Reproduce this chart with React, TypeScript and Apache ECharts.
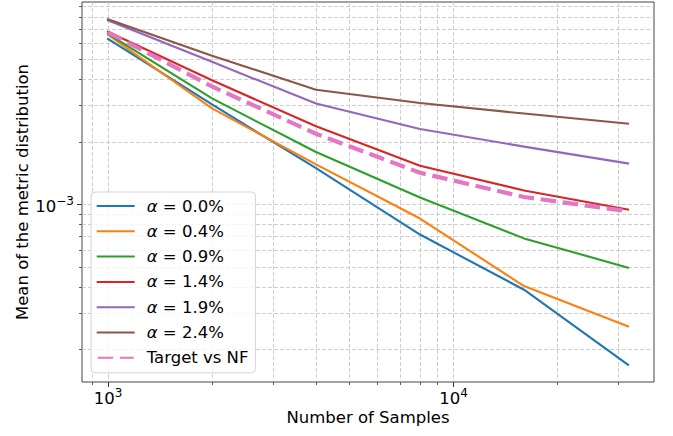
import React, { useEffect, useRef } from 'react';
import * as echarts from 'echarts';

// ---- data ----
const samples = [1000, 2000, 4000, 8000, 16000, 32000];
const alpha00 = [6.27e-3, 3.03e-3, 1.496e-3, 7.17e-4, 3.89e-4, 1.694e-4];
const alpha04 = [6.56e-3, 2.9e-3, 1.559e-3, 8.56e-4, 4.05e-4, 2.59e-4];
const alpha09 = [6.63e-3, 3.24e-3, 1.79e-3, 1.081e-3, 6.87e-4, 4.97e-4];
const alpha14 = [6.78e-3, 3.96e-3, 2.38e-3, 1.537e-3, 1.168e-3, 9.46e-4];
const alpha19 = [7.7e-3, 4.86e-3, 3.06e-3, 2.31e-3, 1.9e-3, 1.576e-3];
const alpha24 = [7.79e-3, 5.2e-3, 3.57e-3, 3.08e-3, 2.74e-3, 2.45e-3];
const targetVsNF = [6.74e-3, 3.7e-3, 2.19e-3, 1.422e-3, 1.087e-3, 9.28e-4];

const seriesNames = ['α = 0.0%', 'α = 0.4%', 'α = 0.9%', 'α = 1.4%', 'α = 1.9%', 'α = 2.4%', 'Target vs NF'];
const seriesValues = [alpha00, alpha04, alpha09, alpha14, alpha19, alpha24, targetVsNF];
const seriesColors = ['#1f77b4', '#ff7f0e', '#2ca02c', '#d62728', '#9467bd', '#8c564b', '#e377c2'];

const xMajorTicks = [1000, 10000];
const xMinorTicks = [900, 2000, 3000, 4000, 5000, 6000, 7000, 8000, 9000, 20000, 30000];
const yMajorTicks = [1e-3];
const yMinorTicks = [2e-4, 3e-4, 4e-4, 5e-4, 6e-4, 7e-4, 8e-4, 9e-4, 2e-3, 3e-3, 4e-3, 5e-3, 6e-3, 7e-3, 8e-3, 9e-3];

const xTitle = 'Number of Samples';
const yTitle = 'Mean of the metric distribution';

const FONT = 'DejaVu Sans';
const L = Math.log10;

function paddedRange(vals: number[]): [number, number] {
  const lo = Math.min(...vals);
  const hi = Math.max(...vals);
  const m = (hi - lo) * 0.05;
  return [lo - m, hi + m];
}

export default function App() {
  const ref = useRef<HTMLDivElement>(null);
  useEffect(() => {
    if (!ref.current) return;
    const chart = echarts.init(ref.current, undefined, { renderer: 'svg' });
    const [xMin, xMax] = paddedRange(samples.map(L));
    const [yMin, yMax] = paddedRange(seriesValues.flat().map(L));

    const gridLine = { show: true, lineStyle: { color: '#c8c8c8', type: [4, 2], width: 0.9 } };
    const tickColor = '#333';
    const supRich = {
      b: { fontFamily: FONT, fontSize: 16.5, lineHeight: 20, color: '#000', verticalAlign: 'bottom' },
      s: { fontFamily: FONT, fontSize: 12, lineHeight: 9, color: '#000', verticalAlign: 'top' },
    };

    const series: any[] = seriesNames.map((name, i) => {
      const dashed = i === 6;
      return {
        name,
        type: 'line',
        xAxisIndex: 0,
        yAxisIndex: 0,
        symbol: 'none',
        showSymbol: false,
        clip: true,
        data: samples.map((s, j) => [L(s), L(seriesValues[i][j])]),
        itemStyle: { color: seriesColors[i] },
        lineStyle: {
          color: seriesColors[i],
          width: dashed ? 4.2 : 2.1,
          type: dashed ? [15.5, 6.7] : 'solid',
          join: 'round',
          cap: dashed ? 'butt' : 'square',
        },
        z: 2 + i,
      };
    });

    chart.setOption({
      animation: false,
      backgroundColor: '#fff',
      grid: {
        left: 82,
        right: 19,
        top: 2,
        bottom: 54,
        containLabel: false,
        outerBoundsMode: 'none',
        show: true,
        borderColor: '#444',
        borderWidth: 1,
        backgroundColor: 'transparent',
      },
      xAxis: [
        {
          type: 'value',
          position: 'bottom',
          min: xMin,
          max: xMax,
          name: xTitle,
          nameLocation: 'middle',
          nameGap: 27,
          nameMoveOverlap: false,
          nameTextStyle: { fontFamily: FONT, fontSize: 16.5, color: '#000' },
          axisLine: { show: false },
          axisTick: { show: true, length: 5, customValues: xMajorTicks.map(L), lineStyle: { color: tickColor, width: 1 } },
          axisLabel: {
            show: true,
            margin: 5,
            customValues: xMajorTicks.map(L),
            formatter: (v: number) => `{b|10}{s|${Math.round(v)}}`,
            rich: supRich,
          },
          splitLine: gridLine,
        },
        {
          type: 'value',
          position: 'bottom',
          min: xMin,
          max: xMax,
          axisLine: { show: false },
          axisTick: { show: true, length: 3, customValues: xMinorTicks.map(L), lineStyle: { color: tickColor, width: 0.8 } },
          axisLabel: { show: false },
          splitLine: gridLine,
        },
      ],
      yAxis: [
        {
          type: 'value',
          position: 'left',
          min: yMin,
          max: yMax,
          name: yTitle,
          nameLocation: 'middle',
          nameGap: 51,
          nameMoveOverlap: false,
          nameTextStyle: { fontFamily: FONT, fontSize: 16.5, color: '#000' },
          axisLine: { show: false },
          axisTick: { show: true, length: 5, customValues: yMajorTicks.map(L), lineStyle: { color: tickColor, width: 1 } },
          axisLabel: {
            show: true,
            margin: 8,
            customValues: yMajorTicks.map(L),
            formatter: (v: number) => `{b|10}{s|−${Math.abs(Math.round(v))}}`,
            rich: supRich,
          },
          splitLine: gridLine,
        },
        {
          type: 'value',
          position: 'left',
          min: yMin,
          max: yMax,
          axisLine: { show: false },
          axisTick: { show: true, length: 3, customValues: yMinorTicks.map(L), lineStyle: { color: tickColor, width: 0.8 } },
          axisLabel: { show: false },
          splitLine: gridLine,
        },
      ],
      legend: {
        show: true,
        orient: 'vertical',
        left: 91,
        top: 192,
        itemWidth: 36,
        itemHeight: 20,
        itemGap: 5.3,
        padding: [4, 7, 5, 5.7],
        backgroundColor: 'rgba(255,255,255,0.8)',
        borderColor: '#d5d5d5',
        borderWidth: 1,
        borderRadius: 4,
        selectedMode: false,
        data: seriesNames,
        itemStyle: { opacity: 0, borderWidth: 0 },
        formatter: (name: string) => (name.startsWith('α') ? `{a|α}${name.slice(1)}` : name),
        textStyle: {
          fontFamily: FONT,
          fontSize: 16.5,
          lineHeight: 20,
          color: '#000',
          padding: [0, 0, 0, 8],
          rich: {
            a: { fontFamily: FONT, fontSize: 16.5, lineHeight: 20, fontStyle: 'italic', color: '#000' },
          },
        },
      },
      series,
    });
    return () => chart.dispose();
  }, []);
  return (
    <div
      ref={ref}
      style={{ position: 'fixed', left: 0, top: 0, width: 673, height: 436, background: '#fff' }}
    />
  );
}
